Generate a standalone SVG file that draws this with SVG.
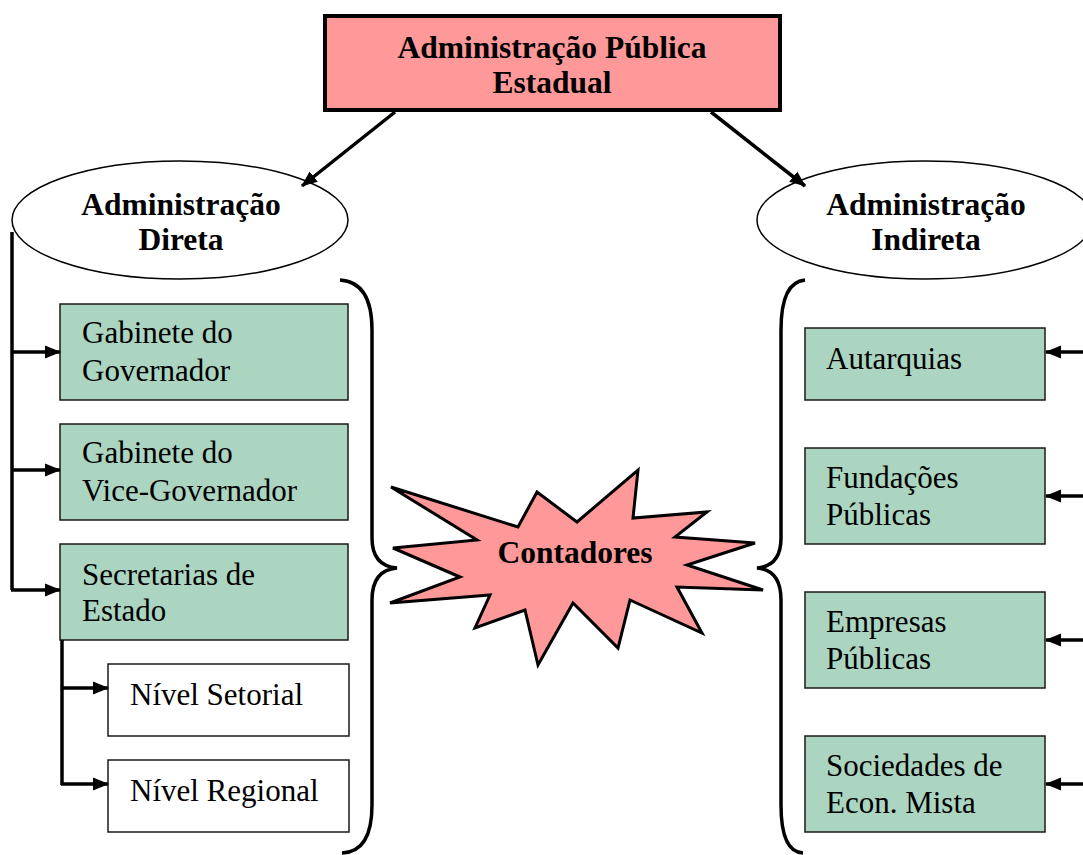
<svg xmlns="http://www.w3.org/2000/svg" width="1083" height="855" viewBox="0 0 1083 855">
<defs>
<style>
.b{font-family:"Liberation Serif","Times New Roman","DejaVu Serif",serif;font-weight:bold;font-size:31.5px;fill:#000;text-anchor:middle}
.t{font-family:"Liberation Serif","Times New Roman","DejaVu Serif",serif;font-size:31px;fill:#000}
.g{fill:#ABD5C1;stroke:#1a1a1a;stroke-width:1.5}
.w{fill:#fff;stroke:#1a1a1a;stroke-width:1.5}
.c{fill:none;stroke:#000;stroke-width:3.5}
.br{fill:none;stroke:#000;stroke-width:3.5}
</style>
<marker id="ah" viewBox="0 0 16 14" refX="15" refY="7" markerWidth="16" markerHeight="14" markerUnits="userSpaceOnUse" orient="auto">
<path d="M0,0.5 L16,7 L0,13.5 z" fill="#000"/>
</marker>
</defs>
<rect width="1083" height="855" fill="#fff"/>

<g id="top">
<rect x="325" y="16" width="455" height="94" fill="#FF9999" stroke="#000" stroke-width="4"/>
<text class="b" x="552" y="58" font-size="30.5">Administração Pública</text>
<text class="b" x="552" y="93" font-size="30.5">Estadual</text>
</g>

<g id="adm-direta">
<ellipse cx="180" cy="220" rx="168" ry="59" fill="#fff" stroke="#000" stroke-width="1.5"/>
<text class="b" x="181" y="215">Administração</text>
<text class="b" x="181" y="250">Direta</text>
</g>

<g id="adm-indireta">
<ellipse cx="925" cy="220" rx="168" ry="59" fill="#fff" stroke="#000" stroke-width="1.5"/>
<text class="b" x="926" y="215">Administração</text>
<text class="b" x="926" y="250">Indireta</text>
</g>

<g id="gab-gov">
<rect class="g" x="60" y="304" width="288" height="96"/>
<text class="t" x="82" y="343">Gabinete do</text>
<text class="t" x="82" y="381">Governador</text>
</g>
<g id="gab-vice">
<rect class="g" x="60" y="424" width="288" height="96"/>
<text class="t" x="82" y="463">Gabinete do</text>
<text class="t" x="82" y="501">Vice-Governador</text>
</g>
<g id="secretarias">
<rect class="g" x="60" y="544" width="288" height="96"/>
<text class="t" x="82" y="585">Secretarias de</text>
<text class="t" x="82" y="621">Estado</text>
</g>
<g id="nivel-setorial">
<rect class="w" x="108" y="664" width="241" height="72"/>
<text class="t" x="130" y="705">Nível Setorial</text>
</g>
<g id="nivel-regional">
<rect class="w" x="108" y="760" width="241" height="72"/>
<text class="t" x="130" y="801">Nível Regional</text>
</g>

<g id="autarquias">
<rect class="g" x="805" y="328" width="240" height="72"/>
<text class="t" x="826" y="369">Autarquias</text>
</g>
<g id="fundacoes">
<rect class="g" x="805" y="448" width="240" height="96"/>
<text class="t" x="826" y="488">Fundações</text>
<text class="t" x="826" y="525">Públicas</text>
</g>
<g id="empresas">
<rect class="g" x="805" y="592" width="240" height="96"/>
<text class="t" x="826" y="632">Empresas</text>
<text class="t" x="826" y="669">Públicas</text>
</g>
<g id="sociedades">
<rect class="g" x="805" y="736" width="240" height="96"/>
<text class="t" x="826" y="776">Sociedades de</text>
<text class="t" x="826" y="813">Econ. Mista</text>
</g>

<g id="contadores">
<polygon points="391,487 518,527 537,492 577,522 638,470 633,518 707,512 675,537 755,543 687,565 763,590 677,587 702,633 630,600 618,648 573,603 538,665 525,610 475,628 490,595 390,603 460,577 393,548 477,540" fill="#FF9999" stroke="#000" stroke-width="3" stroke-linejoin="miter"/>
<text class="b" x="575" y="563">Contadores</text>
</g>

<g id="braces">
<path class="br" d="M340,280 Q372,282 372,330 L372,538 Q372,566 397,568 Q372,570 372,600 L372,805 Q372,852 342,853"/>
<path class="br" d="M805,280 Q781,282 781,330 L781,538 Q781,566 757,568 Q781,570 781,600 L781,805 Q781,852 803,853"/>
</g>

<g id="connectors">
<line class="c" x1="395" y1="112" x2="302" y2="186" marker-end="url(#ah)"/>
<line class="c" x1="711" y1="112" x2="805" y2="186" marker-end="url(#ah)"/>
<polyline class="c" points="12,232 12,590" stroke-linecap="butt"/>
<line class="c" x1="11" y1="352" x2="60" y2="352" marker-end="url(#ah)"/>
<line class="c" x1="11" y1="470" x2="60" y2="470" marker-end="url(#ah)"/>
<line class="c" x1="11" y1="590" x2="60" y2="590" marker-end="url(#ah)"/>
<polyline class="c" points="62,640 62,785"/>
<line class="c" x1="61" y1="688" x2="108" y2="688" marker-end="url(#ah)"/>
<line class="c" x1="61" y1="784" x2="108" y2="784" marker-end="url(#ah)"/>
<line class="c" x1="1083" y1="352" x2="1046" y2="352" marker-end="url(#ah)"/>
<line class="c" x1="1083" y1="496" x2="1046" y2="496" marker-end="url(#ah)"/>
<line class="c" x1="1083" y1="640" x2="1046" y2="640" marker-end="url(#ah)"/>
<line class="c" x1="1083" y1="784" x2="1046" y2="784" marker-end="url(#ah)"/>
</g>
</svg>
